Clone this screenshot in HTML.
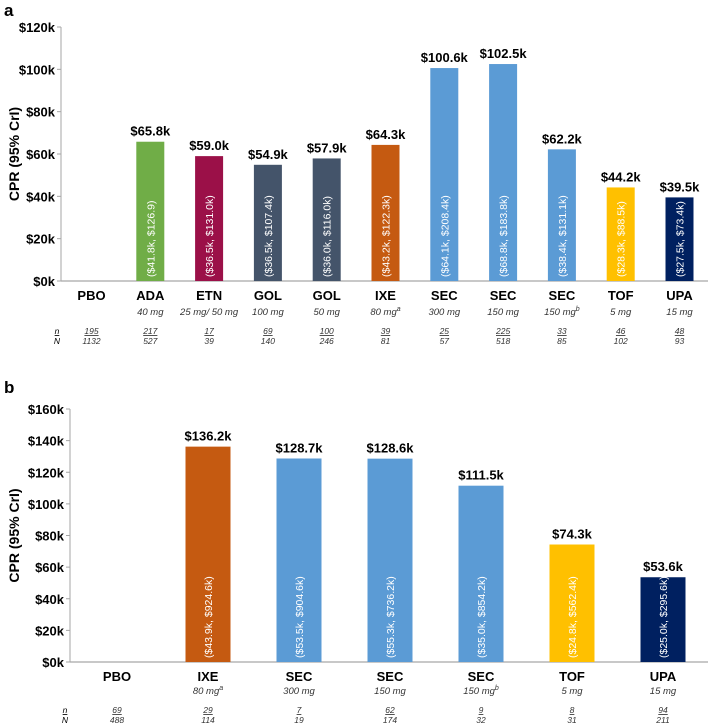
<!DOCTYPE html>
<html><head><meta charset="utf-8"><style>
html,body{margin:0;padding:0;background:#fff;width:708px;height:726px;overflow:hidden}
svg{display:block;font-family:"Liberation Sans",sans-serif}
</style></head><body>
<svg id="s" width="708" height="726"></svg>
<script>
const catsA=["PBO","ADA","ETN","GOL","GOL","IXE","SEC","SEC","SEC","TOF","UPA"];
const dosesA=["","40 mg","25 mg/ 50 mg","100 mg","50 mg","80 mg","300 mg","150 mg","150 mg","5 mg","15 mg"];
const supA=["","","","","","a","","","b","",""];
const valsA=[null,65.8,59.0,54.9,57.9,64.3,100.6,102.5,62.2,44.2,39.5];
const ciA=["","($41.8k, $126.9)","($36.5k, $131.0k)","($36.5k, $107.4k)","($36.0k, $116.0k)","($43.2k, $122.3k)","($64.1k, $208.4k)","($68.8k, $183.8k)","($38.4k, $131.1k)","($28.3k, $88.5k)","($27.5k, $73.4k)"];
const nA=["195","217","17","69","100","39","25","225","33","46","48"];
const NA=["1132","527","39","140","246","81","57","518","85","102","93"];
const colA=["#fff","#70ad47","#9b1048","#44546a","#44546a","#c55a11","#5b9bd5","#5b9bd5","#5b9bd5","#ffc000","#002060"];
const ticksA=[0,20,40,60,80,100,120];

const catsB=["PBO","IXE","SEC","SEC","SEC","TOF","UPA"];
const dosesB=["","80 mg","300 mg","150 mg","150 mg","5 mg","15 mg"];
const supB=["","a","","","b","",""];
const valsB=[null,136.2,128.7,128.6,111.5,74.3,53.6];
const ciB=["","($43.9k, $924.6k)","($53.5k, $904.6k)","($55.3k, $736.2k)","($35.0k, $854.2k)","($24.8k, $562.4k)","($25.0k, $295.6k)"];
const nB=["69","29","7","62","9","8","94"];
const NB=["488","114","19","174","32","31","211"];
const colB=["#fff","#c55a11","#5b9bd5","#5b9bd5","#5b9bd5","#ffc000","#002060"];
const ticksB=[0,20,40,60,80,100,120,140,160];

const svg=document.getElementById('s');
const NS="http://www.w3.org/2000/svg";
function mk(tag,at,txt){const e=document.createElementNS(NS,tag);for(const k in at)e.setAttribute(k,at[k]);if(txt!=null)e.textContent=txt;svg.appendChild(e);return e;}

function panel(p){
  const L=mk('text',{x:4,y:p.top,'font-size':17,'font-weight':'bold'},p.letter);
  
  
  const y=v=>p.y0-(v/p.max)*(p.y0-p.yTop);
  const x=i=>p.x0+p.first+i*p.step;
  p.ticks.forEach(t=>{
    const tl=mk('text',{x:p.axX-6,y:y(t)+5,'text-anchor':'end','font-size':13,'font-weight':'bold',fill:'#000'},'$'+t+'k');
    
    
    mk('line',{x1:p.axX-4,x2:p.axX,y1:y(t),y2:y(t),stroke:'#a6a6a6'});
  });
  const ax=mk('line',{x1:p.axX,x2:p.axX,y1:p.yTop,y2:p.y0,stroke:'#a6a6a6','stroke-width':1});
  
  
  const xa=mk('line',{x1:p.axX,x2:708,y1:p.y0,y2:p.y0,stroke:'#a6a6a6','stroke-width':1.2});
  
  
  const cy=(p.yTop+p.y0)/2;
  const yt=mk('text',{x:0,y:0,transform:`translate(${p.titleX},${cy}) rotate(-90)`,'text-anchor':'middle','font-size':14,'font-weight':'bold'},'CPR (95% CrI)');
  
  
  p.cats.forEach((c,i)=>{
    const cx=x(i);
    if(p.vals[i]!=null){
      const b=mk('rect',{x:cx-p.bw/2,y:y(p.vals[i]),width:p.bw,height:p.y0-y(p.vals[i]),fill:p.col[i]});
      
      
      const v=mk('text',{x:cx,y:y(p.vals[i])-6,'text-anchor':'middle','font-size':13,'font-weight':'bold'},'$'+p.vals[i].toFixed(1)+'k');
      
      
      const ci=mk('text',{x:0,y:0,transform:`translate(${cx+4},${p.y0-4}) rotate(-90)`,'font-size':10.5,fill:'#fff'},p.ci[i]);
      
      
    }
    const cl=mk('text',{x:cx,y:p.y0+19,'text-anchor':'middle','font-size':13,'font-weight':'bold'},c);
    
    
    if(p.doses[i]){
      const d=mk('text',{x:cx,y:p.y0+p.dY,'text-anchor':'middle','font-size':9.5,'font-style':'italic',fill:'#333'},p.doses[i]);
      
      
      if(p.sup[i]){const ts=document.createElementNS(NS,'tspan');ts.setAttribute('dy','-4');ts.setAttribute('font-size','7');ts.textContent=p.sup[i];d.appendChild(ts);}
    }
    const n=mk('text',{x:cx,y:p.y0+p.nY,'text-anchor':'middle','font-size':8.5,'font-style':'italic','text-decoration':'underline',fill:'#333'},p.n[i]);
    
    
    const N=mk('text',{x:cx,y:p.y0+p.nY+10,'text-anchor':'middle','font-size':8.5,'font-style':'italic',fill:'#333'},p.N[i]);
    
    
  });
  mk('text',{x:p.nX,y:p.y0+p.nY,'text-anchor':'middle','font-size':8.5,'font-style':'italic','text-decoration':'underline'},'n');
  mk('text',{x:p.nX,y:p.y0+p.nY+10,'text-anchor':'middle','font-size':8.5,'font-style':'italic'},'N');
}
panel({letter:'a',top:16,cats:catsA,doses:dosesA,sup:supA,vals:valsA,ci:ciA,n:nA,N:NA,col:colA,ticks:ticksA,max:120,y0:281,yTop:27,axX:61,x0:0,first:91.5,step:58.8,bw:28,titleX:19,nX:57,dY:34,nY:53});
panel({letter:'b',top:393,cats:catsB,doses:dosesB,sup:supB,vals:valsB,ci:ciB,n:nB,N:NB,col:colB,ticks:ticksB,max:160,y0:662,yTop:409,axX:70,x0:0,first:117,step:91,bw:45,titleX:19,nX:65,dY:32,nY:51});
</script>
</body></html>
